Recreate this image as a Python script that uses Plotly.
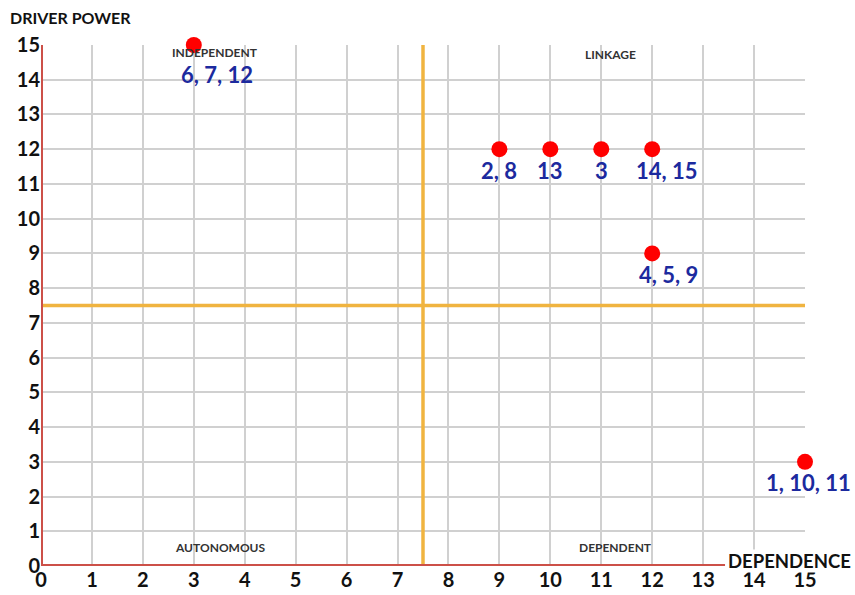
import plotly.graph_objects as go

# ---- data ----
dependence = [3, 9, 10, 11, 12, 12, 15]
driver_power = [15, 12, 12, 12, 12, 9, 3]
point_labels = ["6, 7, 12", "2, 8", "13", "3", "14, 15", "4, 5, 9", "1, 10, 11"]
label_xshift = [23, 0, 0, 0, 15, 16, 3]
label_yshift = [-29, -21, -21, -21, -21, -21, -21]

quadrant_names = ["INDEPENDENT", "LINKAGE", "AUTONOMOUS", "DEPENDENT"]
quadrant_x = [3.42, 11.19, 3.53, 11.27]
quadrant_y = [14.77, 14.72, 0.52, 0.52]

tick_vals = list(range(0, 16))
tick_text = [str(v) for v in tick_vals]
axis_max = 15
mid = 7.5
x_axis_line_end = 13.43

RED = "#cc5048"
ORANGE = "#f0b440"
BLUE = "#1c2a9e"
FONT = "Lato"

fig = go.Figure()
fig.add_trace(go.Scatter(
    x=dependence, y=driver_power, mode="markers",
    marker=dict(size=16, color="#ff0000"),
    cliponaxis=False, hoverinfo="skip", showlegend=False,
))

shapes = [
    dict(type="line", x0=mid, x1=mid, y0=0, y1=axis_max, line=dict(color=ORANGE, width=3.5), layer="above"),
    dict(type="line", x0=0, x1=axis_max, y0=mid, y1=mid, line=dict(color=ORANGE, width=3.5), layer="above"),
    dict(type="line", x0=0, x1=0, y0=0, y1=axis_max, line=dict(color=RED, width=4), layer="above"),
    dict(type="line", x0=0, x1=x_axis_line_end, y0=0, y1=0, line=dict(color=RED, width=4), layer="above"),
]

annotations = []
for x, y, t, dx, dy in zip(dependence, driver_power, point_labels, label_xshift, label_yshift):
    annotations.append(dict(x=x, y=y, text=t, showarrow=False, xshift=dx, yshift=dy,
                            font=dict(family=FONT, size=22, color=BLUE, weight="bold")))
for t, x, y in zip(quadrant_names, quadrant_x, quadrant_y):
    annotations.append(dict(x=x, y=y, text=t, showarrow=False,
                            font=dict(family=FONT, size=12, color="#333333", weight="bold")))

annotations.append(dict(xref="paper", yref="paper", x=-33/764, y=1 + 27/521, xanchor="left", yanchor="middle",
                        text="DRIVER POWER", showarrow=False,
                        font=dict(family=FONT, size=16, color="#111111", weight="bold")))
annotations.append(dict(xref="paper", yref="paper", x=(727 - 41)/764, y=(566 - 561)/521, xanchor="left", yanchor="middle",
                        text="DEPENDENCE", showarrow=False, bgcolor="white", borderpad=0,
                        font=dict(family=FONT, size=18.5, color="#111111", weight="bold")))

axis_common = dict(range=[0, axis_max], tickvals=tick_vals, ticktext=tick_text, automargin=False,
                   showgrid=True, gridcolor="#d0d0d0", gridwidth=1.5, zeroline=False, showline=False,
                   ticks="", tickfont=dict(family=FONT, size=20, color="#111111", weight="bold"))

fig.update_layout(
    width=855, height=595,
    margin=dict(l=41, r=50, t=45, b=29, autoexpand=False),
    paper_bgcolor="white", plot_bgcolor="white",
    shapes=shapes, annotations=annotations,
    xaxis=axis_common, yaxis=axis_common,
)

fig.write_html("out.html", config={"displayModeBar": False},
               post_script="document.body.style.margin='0';document.body.style.overflow='hidden';")
